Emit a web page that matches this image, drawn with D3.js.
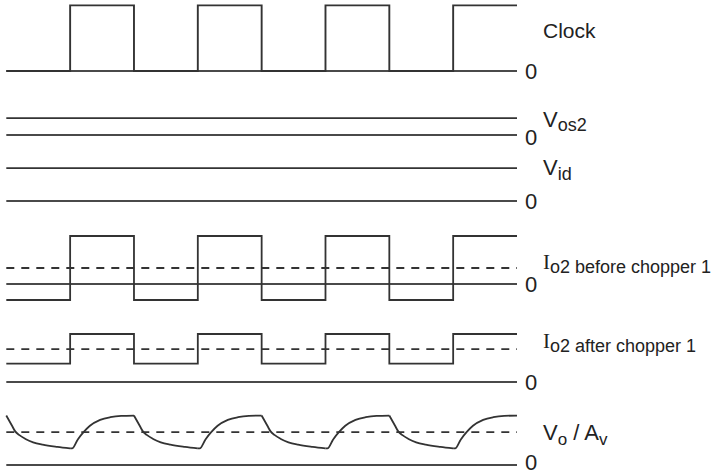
<!DOCTYPE html>
<html>
<head>
<meta charset="utf-8">
<script src="https://cdn.jsdelivr.net/npm/d3@7/dist/d3.min.js"></script>
<style>
  html, body { margin: 0; padding: 0; background: #fff; }
  svg { display: block; }
  text { font-family: "Liberation Sans", Arial, Helvetica, sans-serif; fill: #222; }
</style>
</head>
<body>
<svg id="chart" width="714" height="475"></svg>
<script>
// Time is measured in clock half-periods: 0 .. 8
const phaseEdges = [0, 1, 2, 3, 4, 5, 6, 7, 8];

// Clock: low / high per half-period
const clockLevels = [0, 4.1, 0, 4.1, 0, 4.1, 0, 4.1];

// DC levels
const vos2Level = 1.05;
const vidLevel = 2.05;

// Io2 before chopper 1: Vid chopped around the Vos2 offset
const io2BeforeLevels = [-1, 3, -1, 3, -1, 3, -1, 3];
const io2BeforeMean = 1.0;

// Io2 after chopper 1: Vos2 chopped around Vid
const io2AfterLevels = [1.15, 3, 1.15, 3, 1.15, 3, 1.15, 3];
const io2AfterMean = 2.05;

// Vo / Av: exponential charge / discharge in each half-period
const voMean = 2.05;
const voTime = [
  0, 0.09, 0.14, 0.2, 0.3, 0.42, 0.57, 0.8,
  1, 1.03, 1.12, 1.21, 1.31, 1.47, 1.63, 1.8,
  2, 2.09, 2.14, 2.2, 2.3, 2.42, 2.57, 2.8,
  3, 3.03, 3.12, 3.21, 3.31, 3.47, 3.63, 3.8,
  4, 4.09, 4.14, 4.2, 4.3, 4.42, 4.57, 4.8,
  5, 5.03, 5.12, 5.21, 5.31, 5.47, 5.63, 5.8,
  6, 6.09, 6.14, 6.2, 6.3, 6.42, 6.57, 6.8,
  7, 7.03, 7.12, 7.21, 7.31, 7.47, 7.63, 7.8,
  8
];
const voLevel = [
  3.09, 2.45, 2.1, 1.88, 1.63, 1.42, 1.27, 1.13,
  1.04, 1.04, 1.6, 2.05, 2.45, 2.82, 2.99, 3.07,
  3.09, 2.45, 2.1, 1.88, 1.63, 1.42, 1.27, 1.13,
  1.04, 1.04, 1.6, 2.05, 2.45, 2.82, 2.99, 3.07,
  3.09, 2.45, 2.1, 1.88, 1.63, 1.42, 1.27, 1.13,
  1.04, 1.04, 1.6, 2.05, 2.45, 2.82, 2.99, 3.07,
  3.09, 2.45, 2.1, 1.88, 1.63, 1.42, 1.27, 1.13,
  1.04, 1.04, 1.6, 2.05, 2.45, 2.82, 2.99, 3.07,
  3.09
];

// ---- layout ----
const svg = d3.select("#chart");
const x = d3.scaleLinear().domain([0, 8]).range([6.3, 517]);
const unitPx = 16;
const rowZero = { clock: 71, vos2: 135, vid: 201, io2b: 284, io2a: 382, vo: 465 };
const rowScale = key => d3.scaleLinear().domain([0, 1]).range([rowZero[key], rowZero[key] - unitPx]);

const signalColor = "#333";
const baseColor = "#4a4a4a";

function zeroLine(y) {
  svg.append("line")
    .attr("x1", x(0)).attr("x2", x(8))
    .attr("y1", y(0)).attr("y2", y(0))
    .attr("stroke", baseColor).attr("stroke-width", 2.2);
}
function levelLine(y, v, dashed) {
  svg.append("line")
    .attr("x1", x(0)).attr("x2", x(8))
    .attr("y1", y(v)).attr("y2", y(v))
    .attr("stroke", signalColor).attr("stroke-width", 1.8)
    .attr("stroke-dasharray", dashed ? "8,7" : null);
}
function stepWave(y, levels, width) {
  const pts = levels.map((v, i) => [phaseEdges[i], v]);
  pts.push([phaseEdges[levels.length], levels[levels.length - 1]]);
  const line = d3.line().x(d => x(d[0])).y(d => y(d[1])).curve(d3.curveStepAfter);
  svg.append("path").attr("d", line(pts))
    .attr("fill", "none").attr("stroke", signalColor)
    .attr("stroke-width", width).attr("stroke-linejoin", "miter");
}

// Clock
const yClock = rowScale("clock");
zeroLine(yClock);
stepWave(yClock, clockLevels, 1.9);

// Vos2
const yVos2 = rowScale("vos2");
zeroLine(yVos2);
levelLine(yVos2, vos2Level, false);

// Vid
const yVid = rowScale("vid");
zeroLine(yVid);
levelLine(yVid, vidLevel, false);

// Io2 before chopper 1
const yIo2b = rowScale("io2b");
zeroLine(yIo2b);
levelLine(yIo2b, io2BeforeMean, true);
stepWave(yIo2b, io2BeforeLevels, 1.8);

// Io2 after chopper 1
const yIo2a = rowScale("io2a");
zeroLine(yIo2a);
levelLine(yIo2a, io2AfterMean, true);
stepWave(yIo2a, io2AfterLevels, 1.8);

// Vo / Av, drawn one half-period at a time so the switching corners stay sharp
const yVo = rowScale("vo");
zeroLine(yVo);
levelLine(yVo, voMean, true);
const voPts = voTime.map((t, i) => [t, voLevel[i]]);
const voLine = d3.line().x(d => x(d[0])).y(d => yVo(d[1])).curve(d3.curveMonotoneX);
for (let k = 0; k < 8; k++) {
  const seg = voPts.filter(d => d[0] >= k && d[0] <= k + 1);
  svg.append("path").attr("d", voLine(seg))
    .attr("fill", "none").attr("stroke", signalColor).attr("stroke-width", 1.8);
}

// ---- labels ----
const labelX = 543;
const zeroX = 525;

function zeroLabel(baseline) {
  svg.append("text").attr("x", zeroX).attr("y", baseline)
    .attr("font-size", 22).text("0");
}
zeroLabel(79);
zeroLabel(145);
zeroLabel(209);
zeroLabel(292);
zeroLabel(390);
zeroLabel(470);

// Clock
svg.append("text").attr("x", labelX).attr("y", 38).attr("font-size", 21).text("Clock");

// V_os2
const tVos2 = svg.append("text").attr("x", labelX).attr("y", 127).attr("font-size", 22);
tVos2.append("tspan").text("V");
tVos2.append("tspan").attr("font-size", 18).attr("dy", 4).text("os2");

// V_id
const tVid = svg.append("text").attr("x", labelX).attr("y", 175).attr("font-size", 22);
tVid.append("tspan").text("V");
tVid.append("tspan").attr("font-size", 18).attr("dy", 5).text("id");

// I_o2 before chopper 1
const tIb = svg.append("text").attr("x", labelX).attr("y", 269).attr("font-size", 21);
tIb.append("tspan").attr("font-family", "'Liberation Serif', 'Times New Roman', serif").text("I");
tIb.append("tspan").attr("font-size", 18).attr("dy", 4).text("o2 before chopper 1");

// I_o2 after chopper 1
const tIa = svg.append("text").attr("x", labelX).attr("y", 348).attr("font-size", 21);
tIa.append("tspan").attr("font-family", "'Liberation Serif', 'Times New Roman', serif").text("I");
tIa.append("tspan").attr("font-size", 18).attr("dy", 4).text("o2 after chopper 1");

// V_o / A_v
const tVo = svg.append("text").attr("x", labelX).attr("y", 440).attr("font-size", 22);
tVo.append("tspan").text("V");
tVo.append("tspan").attr("font-size", 17).attr("dy", 5).text("o");
tVo.append("tspan").attr("dy", -5).text(" / A");
tVo.append("tspan").attr("font-size", 17).attr("dy", 5).text("v");
</script>
</body>
</html>
